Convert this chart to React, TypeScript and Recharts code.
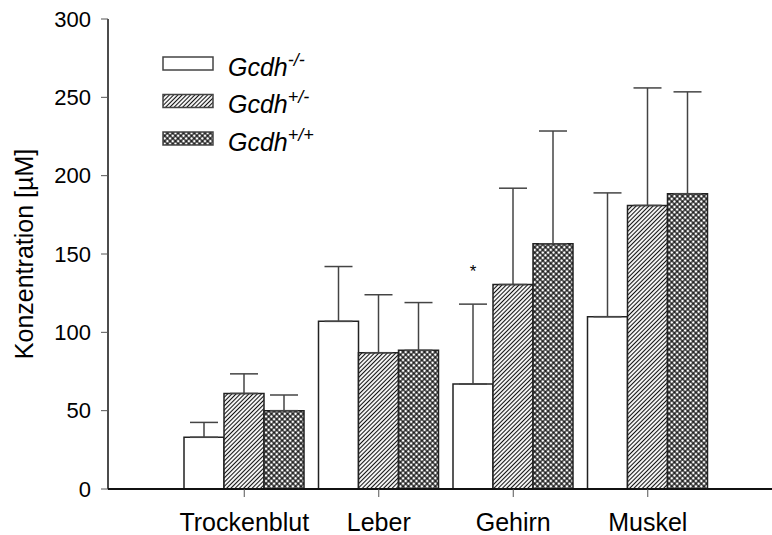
import { BarChart, Bar, XAxis, YAxis, ErrorBar, Legend, LabelList } from 'recharts';

const categories = ['Trockenblut', 'Leber', 'Gehirn', 'Muskel'];

// Gcdh -/-
const koMean = [33, 107, 67, 110];
const koErr = [9.5, 35, 51, 79];
// Gcdh +/-
const hetMean = [61, 87, 130.5, 181];
const hetErr = [12.5, 37, 61.5, 75];
// Gcdh +/+
const wtMean = [50, 88.5, 156.5, 188.5];
const wtErr = [10, 30.5, 72, 65];

// significance marks over the -/- bars
const sigKo = ['', '', '*', ''];

const yTicks = [0, 50, 100, 150, 200, 250, 300];
const legendSup = ['-/-', '+/-', '+/+'];

const data = categories.map((name, i) => ({
  name,
  ko: koMean[i],
  koErr: [0, koErr[i]],
  het: hetMean[i],
  hetErr: [0, hetErr[i]],
  wt: wtMean[i],
  wtErr: [0, wtErr[i]],
}));

const fills = ['#ffffff', 'url(#hatch)', 'url(#cross)'];
const font = '"Liberation Sans", Arial, sans-serif';

const renderLegend = () => (
  <svg width={240} height={115} style={{ fontFamily: font }}>
    {legendSup.map((sup, i) => (
      <g key={sup} transform={`translate(0, ${i * 37.5})`}>
        <rect x={1} y={7} width={50} height={13} fill={fills[i]} stroke="#444" strokeWidth={1.5} />
        <text x={66} y={25.5} fontSize={25} fontStyle="italic" fill="#000">
          Gcdh
          <tspan dy={-10} fontSize={18}>{sup}</tspan>
        </text>
      </g>
    ))}
  </svg>
);

const renderSig = (p: any) => {
  const s = sigKo[p.index];
  if (!s) return null;
  const pxPerUnit = p.height / p.value;
  const errTop = p.y - koErr[p.index] * pxPerUnit;
  return (
    <text x={p.x + p.width / 2} y={errTop - 27} textAnchor="middle" fontSize={17} fill="#000">
      {s}
    </text>
  );
};

export default function App() {
  return (
    <div style={{ position: 'relative', fontFamily: font }}>
      <style>{'body{margin:0}'}</style>
      <svg width={0} height={0} style={{ position: 'absolute' }}>
        <defs>
          <pattern id="hatch" patternUnits="userSpaceOnUse" width={3} height={3} patternTransform="rotate(45)">
            <rect width={3} height={3} fill="#fff" />
            <line x1={1.5} y1={0} x2={1.5} y2={3} stroke="#111" strokeWidth={1.1} />
          </pattern>
          <pattern id="cross" patternUnits="userSpaceOnUse" width={3.8} height={3.8} patternTransform="rotate(45)">
            <rect width={3.8} height={3.8} fill="#fff" />
            <line x1={1.9} y1={0} x2={1.9} y2={3.8} stroke="#000" strokeWidth={1.2} />
            <line x1={0} y1={1.9} x2={3.8} y2={1.9} stroke="#000" strokeWidth={1.2} />
          </pattern>
        </defs>
      </svg>
      <BarChart
        width={772}
        height={535}
        data={data}
        margin={{ top: 19, right: 0, bottom: 0, left: 0 }}
        barSize={40}
        barGap={0}
        style={{ fontFamily: font }}
      >
        <XAxis
          dataKey="name"
          interval={0}
          padding={{ left: 69, right: 57 }}
          height={46}
          tickSize={8}
          tickMargin={16}
          axisLine={{ stroke: '#111', strokeWidth: 2 }}
          tickLine={{ stroke: '#555' }}
          tick={{ fontSize: 25, fill: '#000' }}
        />
        <YAxis
          domain={[0, 300]}
          ticks={yTicks}
          width={108}
          tickSize={7}
          tickMargin={10}
          axisLine={{ stroke: '#111', strokeWidth: 1.5 }}
          tickLine={{ stroke: '#555' }}
          tick={{ fontSize: 22, fill: '#000' }}
          label={{
            value: 'Konzentration [µM]',
            angle: -90,
            position: 'insideLeft',
            offset: 24,
            style: { textAnchor: 'middle', fontSize: 25, fill: '#000' },
          }}
        />
        <Legend
          layout="vertical"
          verticalAlign="middle"
          align="center"
          content={renderLegend}
          wrapperStyle={{ left: 162, top: 50, width: 240, height: 115 }}
        />
        <Bar dataKey="ko" name="Gcdh-/-" fill={fills[0]} stroke="#222" strokeWidth={1.5} isAnimationActive={false}>
          <ErrorBar dataKey="koErr" direction="y" width={14} stroke="#444" strokeWidth={1.5} />
          <LabelList dataKey="ko" content={renderSig} />
        </Bar>
        <Bar dataKey="het" name="Gcdh+/-" fill={fills[1]} stroke="#222" strokeWidth={1.5} isAnimationActive={false}>
          <ErrorBar dataKey="hetErr" direction="y" width={14} stroke="#444" strokeWidth={1.5} />
        </Bar>
        <Bar dataKey="wt" name="Gcdh+/+" fill={fills[2]} stroke="#222" strokeWidth={1.5} isAnimationActive={false}>
          <ErrorBar dataKey="wtErr" direction="y" width={14} stroke="#444" strokeWidth={1.5} />
        </Bar>
      </BarChart>
    </div>
  );
}
